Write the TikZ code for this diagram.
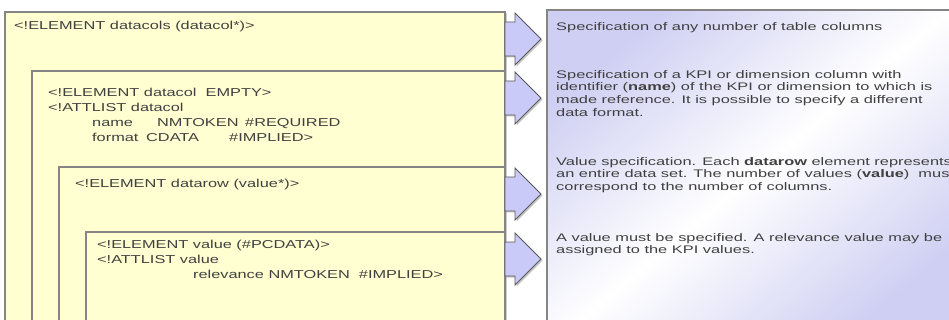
\documentclass[tikz,border=0pt]{standalone}
\usepackage{fontspec}
\setmainfont{Liberation Sans}
\newfontfamily\dtdfont[FakeStretch=1.42]{Liberation Sans}
\newfontfamily\notefont[FakeStretch=1.49]{Liberation Sans}
\usetikzlibrary{shadows}

\definecolor{boxyellow}{HTML}{FFFFD2}
\definecolor{arrowblue}{HTML}{CACAF8}
\definecolor{notelilac}{HTML}{CFCFF3}
\definecolor{framegray}{HTML}{858585}
\definecolor{textgray}{HTML}{404040}

\tikzset{
  dtdbox/.style={draw=framegray, fill=boxyellow, line width=1.3pt},
  pointer/.style={draw=black!65, fill=arrowblue, line width=0.9pt, line join=miter,
    drop shadow={shadow xshift=1.5pt, shadow yshift=-1.5pt, opacity=.45}},
  dtdtext/.style={anchor=north west, inner sep=0pt, align=left, text=textgray,
    font=\dtdfont\fontsize{11.5}{15}\selectfont},
  notetext/.style={anchor=north west, inner sep=0pt, align=left, text=textgray,
    font=\notefont\fontsize{11}{12.8}\selectfont}
}

\begin{document}
\begin{tikzpicture}[x=1pt,y=-1pt]
  \useasboundingbox (0,0) rectangle (949,320);
  \clip (0,0) rectangle (949,320);

  % nested DTD boxes
  \draw[dtdbox, drop shadow={shadow xshift=2pt, shadow yshift=-1pt, opacity=.4}] (5,12) rectangle (505,340);
  \draw[dtdbox] (32,71) rectangle (505,340);
  \draw[dtdbox] (59,167) rectangle (505,340);
  \draw[dtdbox] (86,232) rectangle (505,340);

  % explanation panel
  \draw[draw=framegray, line width=1.3pt, top color=notelilac, bottom color=notelilac,
    middle color=white, shading angle=40] (547,10) rectangle (960,340);

  % arrows between the two sides
  \foreach \t in {12,71,167,232}
    \draw[pointer] (505,\t+10) -- (515,\t+10) -- (515,\t+1) -- (541,\t+27)
      -- (515,\t+53) -- (515,\t+44) -- (505,\t+44) -- cycle;

  % DTD declarations
  \node[dtdtext] (colsdecl) at (14,21) {<!ELEMENT datacols (datacol*)>};
  \node[dtdtext] (coldecl) at (48,88) {<!ELEMENT datacol\ \ EMPTY>\\
    <!ATTLIST datacol\\
    \hspace*{44pt}\makebox[65pt][l]{name}\makebox[88pt][l]{NMTOKEN}\#REQUIRED\\
    \hspace*{44pt}\makebox[54pt][l]{format}\makebox[83pt][l]{CDATA}\#IMPLIED>};
  \node[dtdtext] (rowdecl) at (75,179) {<!ELEMENT datarow (value*)>};
  \node[dtdtext] (valuedecl) at (97,240) {<!ELEMENT value (\#PCDATA)>\\
    <!ATTLIST value\\
    \hspace*{96pt}relevance NMTOKEN\ \ \#IMPLIED>};

  % explanations
  \node[notetext] (colsnote) at (556,22) {Specification of any number of table columns};
  \node[notetext] (colnote) at (556,70) {Specification of a KPI or dimension column with\\
    identifier (\textbf{name}) of the KPI or dimension to which is\\
    made reference. It is possible to specify a different\\
    data format.};
  \node[notetext] (rownote) at (556,157) {Value specification. Each \textbf{datarow} element represents\\
    an entire data set. The number of values (\textbf{value})\ \ must\\
    correspond to the number of columns.};
  \node[notetext] (valuenote) at (556,233) {A value must be specified. A relevance value may be\\
    assigned to the KPI values.};
\end{tikzpicture}
\end{document}
